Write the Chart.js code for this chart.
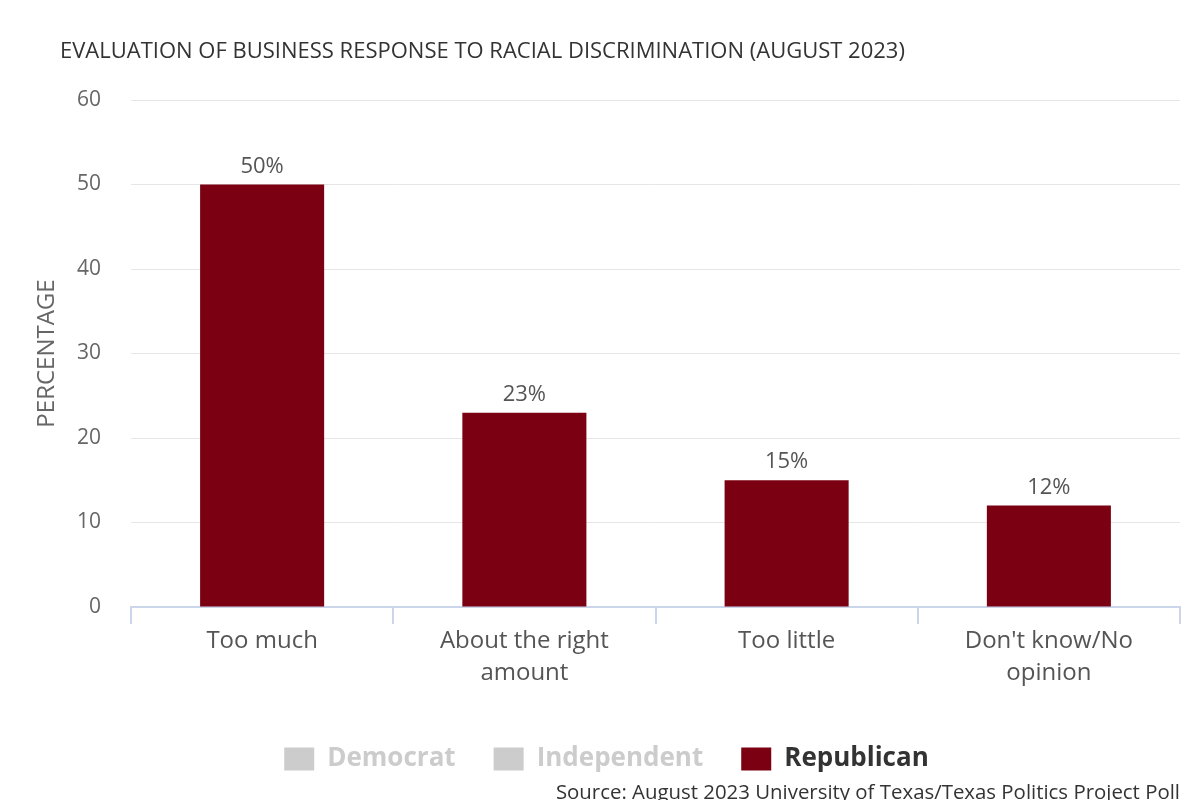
<!DOCTYPE html>
<html>
<head>
<meta charset="utf-8">
<script src="https://cdn.jsdelivr.net/npm/chart.js@4"></script>
<style>
html,body{margin:0;padding:0;background:#fff;}
#wrap{width:1200px;height:800px;position:relative;}
</style>
</head>
<body>
<div id="wrap"><canvas id="c" width="1200" height="800"></canvas></div>
<script>
const chartTitle = "EVALUATION OF BUSINESS RESPONSE TO RACIAL DISCRIMINATION (AUGUST 2023)";
const sourceText = "Source: August 2023 University of Texas/Texas Politics Project Poll";
const categories = [["Too much"], ["About the right", "amount"], ["Too little"], ["Don't know/No", "opinion"]];
const seriesNames = ["Democrat", "Independent", "Republican"];
const democratValues = [];
const independentValues = [];
const republicanValues = [50, 23, 15, 12];
const yTicks = [0, 10, 20, 30, 40, 50, 60];

const FONT = "'Open Sans', sans-serif";
const RED = "#7b0011";
const HIDDEN_GREY = "#cccccc";

const extras = {
  id: 'extras',
  afterDraw(chart) {
    const ctx = chart.ctx;
    ctx.save();
    // title
    ctx.font = "22px " + FONT;
    ctx.fillStyle = "#333333";
    ctx.textAlign = "left";
    ctx.textBaseline = "alphabetic";
    ctx.fillText(chartTitle, 60, 58);
    // source
    ctx.font = "20.4px " + FONT;
    ctx.fillStyle = "#333333";
    ctx.textAlign = "right";
    ctx.fillText(sourceText, 1180, 799);
    // data labels
    ctx.font = "22px " + FONT;
    ctx.fillStyle = "#555555";
    ctx.textAlign = "center";
    chart.data.datasets.forEach((ds, di) => {
      const meta = chart.getDatasetMeta(di);
      if (meta.hidden || !chart.isDatasetVisible(di)) return;
      meta.data.forEach((bar, i) => {
        const v = ds.data[i];
        if (v == null) return;
        ctx.fillText(v + "%", bar.x, bar.y - 12);
      });
    });
    ctx.restore();
  }
};

new Chart(document.getElementById('c'), {
  type: 'bar',
  data: {
    labels: categories,
    datasets: [
      { label: seriesNames[0], data: democratValues, backgroundColor: "#3b5ea8", hidden: true },
      { label: seriesNames[1], data: independentValues, backgroundColor: "#888888", hidden: true },
      { label: seriesNames[2], data: republicanValues, backgroundColor: RED }
    ]
  },
  options: {
    responsive: false,
    animation: false,
    devicePixelRatio: 1,
    layout: { padding: { top: 100, left: 33, right: 20, bottom: 18 } },
    datasets: { bar: { barPercentage: 0.473, categoryPercentage: 1.0 } },
    plugins: {
      title: { display: false },
      tooltip: { enabled: false },
      legend: {
        position: 'bottom',
        labels: {
          boxWidth: 30,
          boxHeight: 23,
          padding: 38,
          font: { family: FONT, size: 26, weight: 'bold' },
          generateLabels(chart) {
            return chart.data.datasets.map((ds, i) => {
              const vis = chart.isDatasetVisible(i);
              return {
                text: ds.label,
                fillStyle: vis ? ds.backgroundColor : HIDDEN_GREY,
                strokeStyle: vis ? ds.backgroundColor : HIDDEN_GREY,
                lineWidth: 0,
                fontColor: vis ? "#333333" : HIDDEN_GREY,
                hidden: false,
                datasetIndex: i
              };
            });
          }
        }
      }
    },
    scales: {
      x: {
        border: { display: true, color: "#ccd6eb", width: 2 },
        grid: { display: true, drawOnChartArea: false, drawTicks: true, tickLength: 17, color: "#ccd6eb", lineWidth: 2, offset: true },
        ticks: { color: "#555555", font: { family: FONT, size: 24, lineHeight: 1.33 }, padding: 1, maxRotation: 0 },
        afterFit(scale) { scale.height = 101; }
      },
      y: {
        min: 0, max: 60,
        afterBuildTicks(scale) { scale.ticks = yTicks.map(v => ({ value: v })); },
        border: { display: false },
        grid: { color: "#e6e6e6", lineWidth: 1, drawTicks: false },
        ticks: { color: "#666666", font: { family: FONT, size: 21 }, padding: 30 },
        title: { display: true, text: "PERCENTAGE", color: "#666666", font: { family: FONT, size: 24 }, padding: 0 },
        afterFit(scale) { scale.width = 98; }
      }
    }
  },
  plugins: [extras]
});
</script>
</body>
</html>
